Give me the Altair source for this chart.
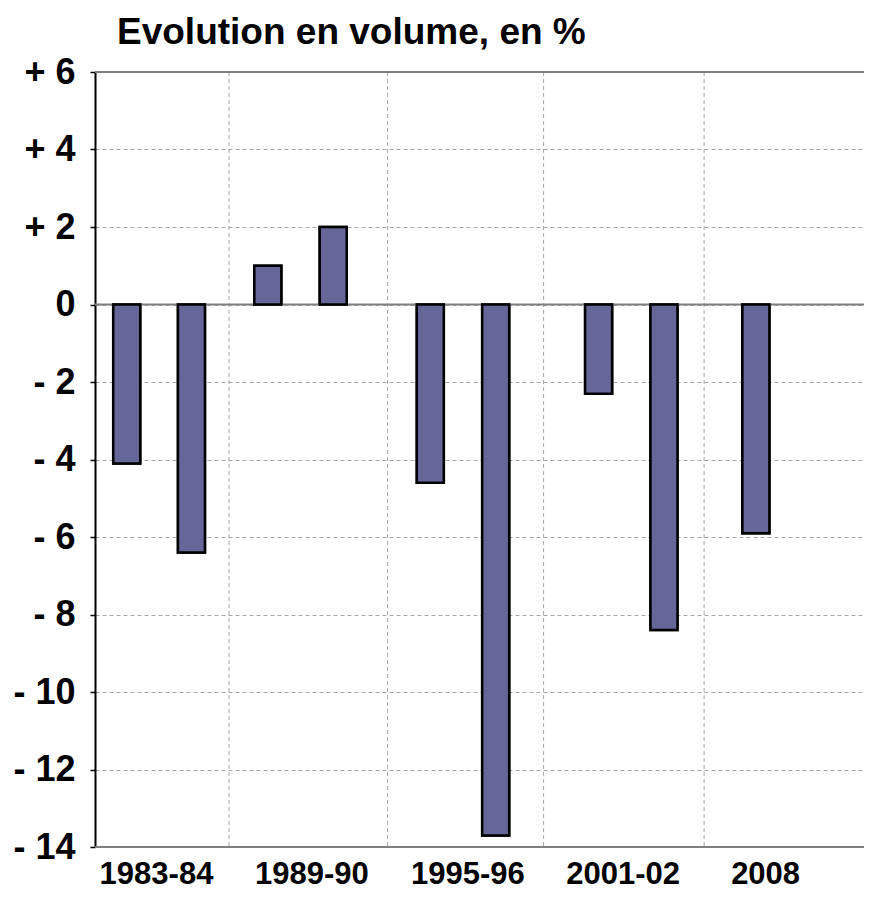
import altair as alt
import pandas as pd

# ---- data ----
bar_pos = [0.49, 1.49, 2.67, 3.68, 5.18, 6.19, 7.78, 8.79, 10.21]
values = [-4.1, -6.4, 1.0, 2.0, -4.6, -13.7, -2.3, -8.4, -5.9]
periods = ["1983-84", "1989-90", "1995-96", "2001-02", "2008"]
period_pos = [0.95, 3.35, 5.76, 8.16, 10.36]
vgrid_pos = [2.07, 4.52, 6.93, 9.41]
frame_y = [6, 0, -14]
y_ticks = [-14, -12, -10, -8, -6, -4, -2, 0, 2, 4, 6]

bars_df = pd.DataFrame({"pos": bar_pos, "value": values})
labels_df = pd.DataFrame({"pos": period_pos, "period": periods})
vgrid_df = pd.DataFrame({"pos": vgrid_pos})
frame_df = pd.DataFrame({"y": frame_y})

W, H = 769, 775
FONT = "Liberation Sans"
xscale = alt.Scale(domain=[0, 11.88], nice=False, zero=False, padding=0)
yscale = alt.Scale(domain=[-14, 6], nice=False, zero=False)

yaxis = alt.Axis(
    values=y_ticks,
    labelExpr="datum.value > 0 ? '+ ' + datum.value : (datum.value < 0 ? '- ' + abs(datum.value) : '0')",
    labelFont=FONT, labelFontWeight="bold", labelFontSize=36, labelColor="black",
    labelPadding=15,
    domainColor="black", domainWidth=2,
    tickColor="black", tickSize=5, tickWidth=1.5,
    grid=True, gridColor="#a6a6a6", gridDash=[4, 3], gridWidth=1,
    title=None,
)

bars = alt.Chart(bars_df).mark_bar(
    size=27, color="#666699", stroke="black", strokeWidth=2.5, orient="vertical"
).encode(
    x=alt.X("pos:Q", scale=xscale, axis=None),
    y=alt.Y("value:Q", scale=yscale, axis=yaxis),
    y2=alt.datum(0),
)

vgrid = alt.Chart(vgrid_df).mark_rule(
    color="#a6a6a6", strokeDash=[4, 3], strokeWidth=1
).encode(x=alt.X("pos:Q", scale=xscale, axis=None))

frame = alt.Chart(frame_df).mark_rule(
    color="#808080", strokeWidth=2
).encode(y=alt.Y("y:Q", scale=yscale, title=None))

labels = alt.Chart(labels_df).mark_text(
    font=FONT, fontWeight="bold", fontSize=31, color="black",
    align="center", baseline="alphabetic"
).encode(
    x=alt.X("pos:Q", scale=xscale, axis=None),
    y=alt.value(H + 37),
    text="period:N",
)

chart = alt.layer(bars, vgrid, frame, bars, labels).properties(
    width=W, height=H,
    title=alt.Title(
        "Evolution en volume, en %", anchor="start", frame="group",
        font=FONT, fontSize=37, fontWeight="bold", color="black",
        dx=22, offset=2,
    ),
    autosize=alt.AutoSizeParams(type="none"),
    padding={"left": 87, "top": 64, "right": 0, "bottom": 44},
).configure_view(stroke=None).configure(background="white")

chart.save("out.html", embed_options={"renderer": "svg", "actions": False})
